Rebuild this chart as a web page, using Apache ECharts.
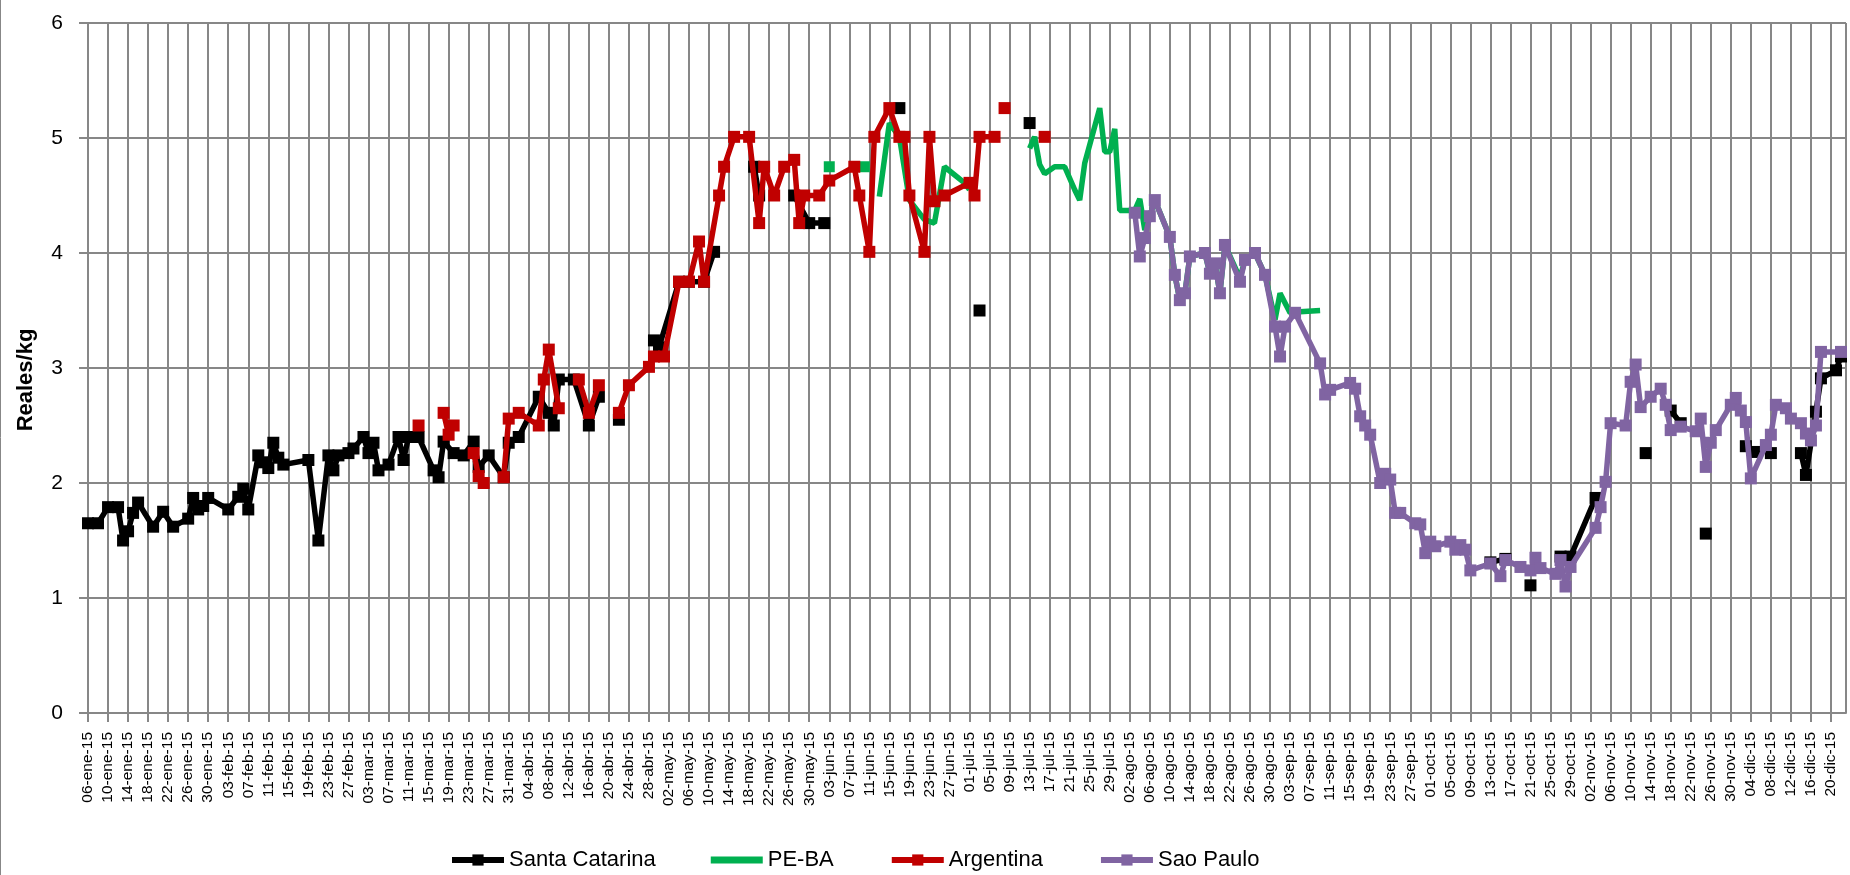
<!DOCTYPE html>
<html>
<head>
    <meta charset="UTF-8">
    <title>Precios Reales/kg 2015</title>
    <style>
        body {
            margin: 0;
            background: #fff;
        }

        #main {
            width: 1850px;
            height: 875px;
        }
    </style>
</head>
<body>
<div id="main"></div>

<script src="https://cdn.jsdelivr.net/npm/echarts@6/dist/echarts.min.js"></script>
<script>
    // fechas 'MM-DD' (2015), null = hueco en la serie
    var santaCatarina = [
        ['01-06', 1.65], ['01-08', 1.65], ['01-10', 1.79], ['01-12', 1.79], ['01-13', 1.50], ['01-14', 1.58],
        ['01-15', 1.74], ['01-16', 1.83], ['01-19', 1.62], ['01-21', 1.75], ['01-23', 1.62], ['01-26', 1.69],
        ['01-27', 1.87], ['01-28', 1.77], ['01-29', 1.80], ['01-30', 1.87], ['02-03', 1.77], ['02-05', 1.88],
        ['02-06', 1.95], ['02-07', 1.77], ['02-09', 2.24], ['02-10', 2.18], ['02-11', 2.13], ['02-12', 2.35],
        ['02-13', 2.22], ['02-14', 2.16], ['02-19', 2.20], ['02-21', 1.50], ['02-23', 2.24], ['02-24', 2.11],
        ['02-25', 2.24], ['02-27', 2.26], ['02-28', 2.30], ['03-02', 2.40], ['03-03', 2.26], ['03-04', 2.35],
        ['03-05', 2.11], ['03-07', 2.16], ['03-09', 2.40], ['03-10', 2.20], ['03-11', 2.40], ['03-13', 2.40],
        ['03-16', 2.11], ['03-17', 2.05], ['03-18', 2.36], ['03-20', 2.26], ['03-22', 2.24], ['03-24', 2.36],
        ['03-25', 2.14], ['03-27', 2.24], ['03-30', 2.05], ['03-31', 2.35], ['04-02', 2.40], ['04-06', 2.75],
        ['04-08', 2.61], ['04-09', 2.50], ['04-10', 2.90], ['04-13', 2.90], ['04-16', 2.50], ['04-18', 2.75], null,
        ['04-22', 2.55], null,
        ['04-29', 3.24], ['04-30', 3.18], ['05-04', 3.75], ['05-06', 3.75], ['05-09', 3.75], ['05-11', 4.01], null,
        ['05-19', 4.75], ['05-20', 4.50], null,
        ['05-27', 4.50], ['05-30', 4.26], ['06-02', 4.26], null,
        ['06-17', 5.26], null, ['07-03', 3.50], null, ['07-13', 5.13], null,
        ['10-13', 1.31], ['10-16', 1.34], null, ['10-21', 1.11], null,
        ['10-27', 1.36], ['10-29', 1.36], ['11-03', 1.87], null,
        ['11-13', 2.26], null, ['11-18', 2.63], ['11-20', 2.52], null, ['11-25', 1.56], null,
        ['12-03', 2.32], ['12-05', 2.27], null, ['12-08', 2.26], null,
        ['12-14', 2.26], ['12-15', 2.07], ['12-17', 2.62], ['12-18', 2.91], ['12-21', 2.98], ['12-22', 3.10]
    ];

    var peBa = [
        ['06-03', 4.75], null, ['06-10', 4.75], null,
        ['06-13', 4.49], ['06-15', 5.13], ['06-17', 5.01], ['06-19', 4.46], ['06-22', 4.29], ['06-24', 4.26],
        ['06-26', 4.75], ['06-30', 4.61], ['07-01', 4.55], null,
        ['07-13', 4.91], ['07-14', 5.01], ['07-15', 4.77], ['07-16', 4.69], ['07-18', 4.75], ['07-20', 4.75],
        ['07-22', 4.55], ['07-23', 4.46], ['07-24', 4.78], ['07-27', 5.26], ['07-28', 4.88], ['07-29', 4.88],
        ['07-30', 5.08], ['07-31', 4.37], ['08-03', 4.37], ['08-04', 4.47], ['08-05', 4.20], ['08-06', 4.32],
        ['08-07', 4.46], ['08-10', 4.14], ['08-11', 3.81], ['08-12', 3.59], ['08-13', 3.65], ['08-14', 3.97],
        ['08-17', 4.00], ['08-18', 3.82], ['08-19', 3.91], ['08-20', 3.65], ['08-21', 4.07], ['08-24', 3.78],
        ['08-25', 3.94], ['08-27', 4.00], ['08-29', 3.81], ['08-31', 3.42], ['09-01', 3.65], ['09-03', 3.48],
        ['09-05', 3.49], ['09-09', 3.50]
    ];

    var argentina = [
        ['03-13', 2.50], null,
        ['03-18', 2.61], ['03-19', 2.42], ['03-20', 2.50], null,
        ['03-24', 2.26], ['03-25', 2.06], ['03-26', 2.00], null,
        ['03-30', 2.05], ['03-31', 2.56], ['04-02', 2.61], ['04-06', 2.50], ['04-07', 2.90], ['04-08', 3.16],
        ['04-10', 2.65], null,
        ['04-14', 2.90], ['04-16', 2.61], ['04-18', 2.85], null,
        ['04-22', 2.61], ['04-24', 2.85], ['04-28', 3.01], ['04-29', 3.10], ['05-01', 3.10], ['05-04', 3.75],
        ['05-06', 3.75], ['05-08', 4.10], ['05-09', 3.75], ['05-12', 4.50], ['05-13', 4.75], ['05-15', 5.01],
        ['05-18', 5.01], ['05-20', 4.26], ['05-21', 4.75], ['05-23', 4.50], ['05-25', 4.75], ['05-27', 4.81],
        ['05-28', 4.26], ['05-29', 4.50], ['06-01', 4.50], ['06-03', 4.63], ['06-08', 4.75], ['06-09', 4.50],
        ['06-11', 4.01], ['06-12', 5.01], ['06-15', 5.26], ['06-17', 5.01], ['06-18', 5.01], ['06-19', 4.50],
        ['06-22', 4.01], ['06-23', 5.01], ['06-24', 4.45], ['06-26', 4.50], ['07-01', 4.61], ['07-02', 4.50],
        ['07-03', 5.01], ['07-06', 5.01], null,
        ['07-08', 5.26], null, ['07-16', 5.01]
    ];

    var saoPaulo = [
        ['08-03', 4.35], ['08-04', 3.97], ['08-05', 4.13], ['08-06', 4.32], ['08-07', 4.46], ['08-10', 4.14],
        ['08-11', 3.81], ['08-12', 3.59], ['08-13', 3.65], ['08-14', 3.97], ['08-17', 4.00], ['08-18', 3.82],
        ['08-19', 3.91], ['08-20', 3.65], ['08-21', 4.07], ['08-24', 3.75], ['08-25', 3.94], ['08-27', 4.00],
        ['08-29', 3.81], ['08-31', 3.36], ['09-01', 3.10], ['09-02', 3.36], ['09-04', 3.48], ['09-09', 3.04],
        ['09-10', 2.77], ['09-11', 2.81], ['09-15', 2.87], ['09-16', 2.82], ['09-17', 2.58], ['09-18', 2.50],
        ['09-19', 2.42], ['09-21', 2.00], ['09-22', 2.08], ['09-23', 2.03], ['09-24', 1.74], ['09-25', 1.74],
        ['09-28', 1.65], ['09-29', 1.64], ['09-30', 1.39], ['10-01', 1.49], ['10-02', 1.45], ['10-05', 1.49],
        ['10-06', 1.42], ['10-07', 1.46], ['10-08', 1.42], ['10-09', 1.24], ['10-13', 1.30], ['10-15', 1.19],
        ['10-16', 1.33], ['10-19', 1.27], ['10-21', 1.24], ['10-22', 1.35], ['10-23', 1.26], ['10-26', 1.21],
        ['10-27', 1.33], ['10-28', 1.10], ['10-29', 1.27], ['11-03', 1.61], ['11-04', 1.79], ['11-05', 2.01],
        ['11-06', 2.52], ['11-09', 2.50], ['11-10', 2.88], ['11-11', 3.03], ['11-12', 2.66], ['11-14', 2.75],
        ['11-16', 2.82], ['11-17', 2.68], ['11-18', 2.46], ['11-20', 2.49], ['11-23', 2.45], ['11-24', 2.56],
        ['11-25', 2.14], ['11-26', 2.35], ['11-27', 2.46], ['11-30', 2.68], ['12-01', 2.74], ['12-02', 2.63],
        ['12-03', 2.53], ['12-04', 2.04], ['12-07', 2.33], ['12-08', 2.42], ['12-09', 2.68], ['12-11', 2.65],
        ['12-12', 2.56], ['12-14', 2.52], ['12-15', 2.43], ['12-16', 2.37], ['12-17', 2.50], ['12-18', 3.14],
        ['12-22', 3.14]
    ];

    var seriesNames = ['Santa Catarina', 'PE-BA', 'Argentina', 'Sao Paulo'];
    var seriesColors = ['#000000', '#00B050', '#C00000', '#8064A2'];
    var meses = ['ene', 'feb', 'mar', 'abr', 'may', 'jun', 'jul', 'ago', 'sep', 'oct', 'nov', 'dic'];

    var FONT = '"Liberation Sans", Arial, sans-serif';
    var GRID_GRAY = '#878787';
    var DAY0 = Date.UTC(2015, 0, 6);

    // dias desde 06-ene-15
    function dayOf(s) {
        var p = s.split('-');
        return (Date.UTC(2015, +p[0] - 1, +p[1]) - DAY0) / 86400000;
    }

    function dayLabel(v) {
        var d = new Date(DAY0 + v * 86400000);
        var dd = d.getUTCDate();
        return (dd < 10 ? '0' + dd : dd) + '-' + meses[d.getUTCMonth()] + '-15';
    }

    function toPoints(list, markLonely) {
        var out = [];
        for (var i = 0; i < list.length; i++) {
            if (list[i] === null) {
                out.push(['-', '-']);
                continue;
            }
            var pt = [dayOf(list[i][0]), list[i][1]];
            var lonely = (i === 0 || list[i - 1] === null) && (i === list.length - 1 || list[i + 1] === null);
            if (markLonely && lonely) {
                out.push({value: pt, symbol: 'rect', symbolSize: 11});
            } else {
                out.push(pt);
            }
        }
        return out;
    }

    function makeSeries(idx, list, withMarkers) {
        return {
            name: seriesNames[idx],
            type: 'line',
            data: toPoints(list, !withMarkers),
            symbol: withMarkers ? 'rect' : 'none',
            symbolSize: 12,
            connectNulls: false,
            color: seriesColors[idx],
            lineStyle: {width: 5.5, color: seriesColors[idx]},
            itemStyle: {color: seriesColors[idx]},
            emphasis: {disabled: true},
            z: 2 + idx
        };
    }

    var myChart = echarts.init(document.getElementById('main'));

    var option = {
        animation: false,
        backgroundColor: '#fff',
        graphic: [{
            type: 'line',
            shape: {x1: 0.5, y1: 0, x2: 0.5, y2: 875},
            style: {stroke: GRID_GRAY, lineWidth: 1}
        }, {
            // titulo del eje Y
            type: 'text',
            x: 26,
            y: 380,
            rotation: Math.PI / 2,
            style: {
                text: 'Reales/kg',
                font: 'bold 22px "Liberation Sans", Arial, sans-serif',
                fill: '#000',
                textAlign: 'center',
                textVerticalAlign: 'middle'
            }
        }],
        grid: {
            left: 88,
            right: 4,
            top: 23,
            bottom: 162,
            containLabel: false
        },
        legend: {
            data: [
                {name: 'Santa Catarina'},
                {name: 'PE-BA', icon: 'path://M0 0H52V7H0Z'},
                {name: 'Argentina'},
                {name: 'Sao Paulo'}
            ],
            left: 444,
            top: 844,
            itemWidth: 52,
            itemHeight: 14,
            itemGap: 55,
            lineStyle: {width: 6},
            textStyle: {fontSize: 22, color: '#000', fontFamily: FONT}
        },
        xAxis: {
            type: 'value',
            min: 0,
            max: 351,
            interval: 4,
            axisLine: {lineStyle: {color: GRID_GRAY, width: 2}},
            axisTick: {show: true, length: 9, lineStyle: {color: GRID_GRAY, width: 2}},
            splitLine: {show: true, lineStyle: {color: GRID_GRAY, width: 2}},
            axisLabel: {
                rotate: 90,
                margin: 19,
                fontSize: 15.5,
                color: '#000',
                fontFamily: FONT,
                showMaxLabel: false,
                formatter: function (v) {
                    return dayLabel(v);
                }
            }
        },
        yAxis: {
            type: 'value',
            min: 0,
            max: 6,
            interval: 1,
            axisLine: {show: true, lineStyle: {color: GRID_GRAY, width: 2}},
            axisTick: {show: true, length: 9, lineStyle: {color: GRID_GRAY, width: 2}},
            splitLine: {show: true, lineStyle: {color: GRID_GRAY, width: 2}},
            axisLabel: {fontSize: 21, color: '#000', margin: 25, fontFamily: FONT}
        },
        series: [
            makeSeries(0, santaCatarina, true),
            makeSeries(1, peBa, false),
            makeSeries(2, argentina, true),
            makeSeries(3, saoPaulo, true)
        ]
    };

    myChart.setOption(option);
</script>
</body>
</html>
